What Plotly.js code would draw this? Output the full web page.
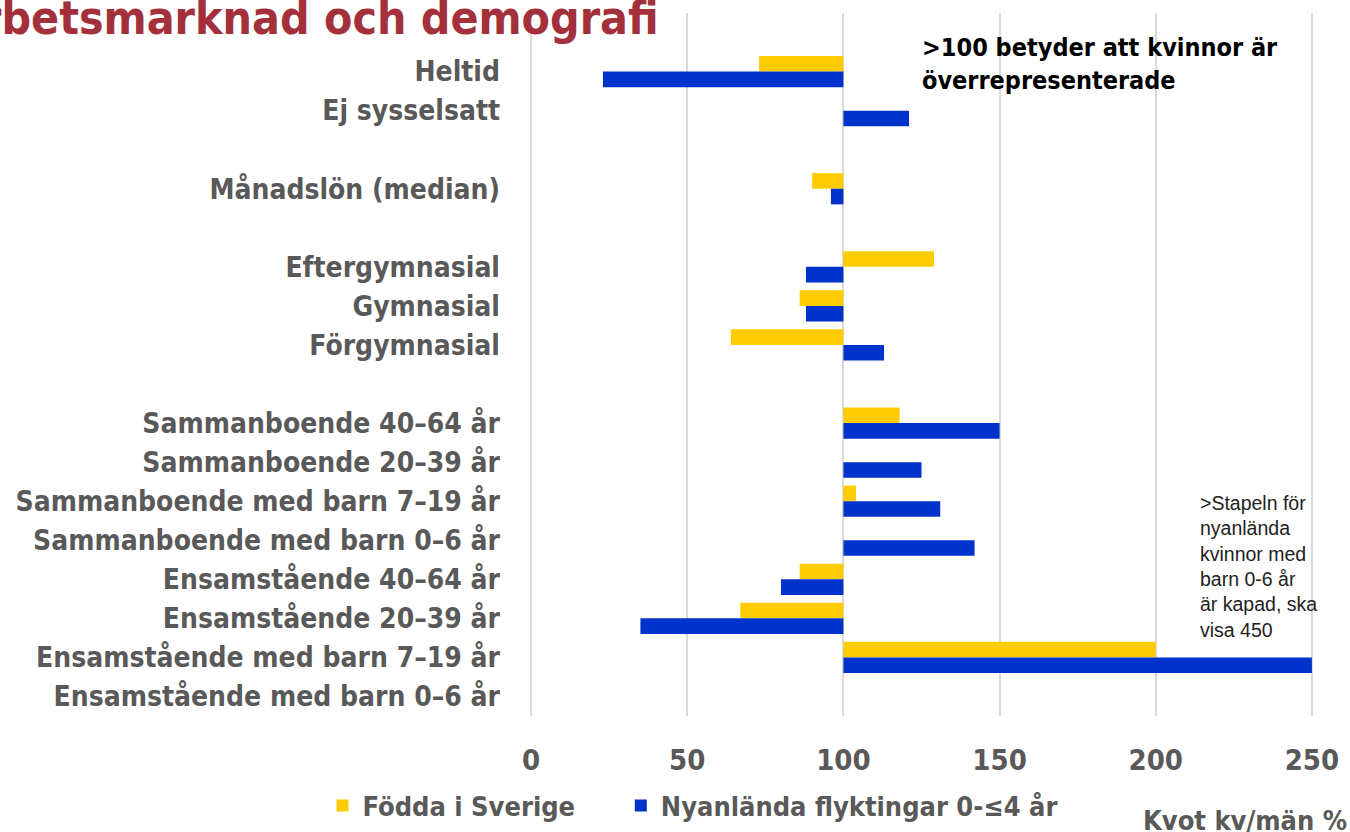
<!DOCTYPE html>
<html><head><meta charset="utf-8">
<script src="https://cdn.plot.ly/plotly-3.0.1.min.js"></script>
<style>html,body{margin:0;padding:0;background:#fff}#chart{width:1350px;height:832px}</style>
</head><body><div id="chart"></div>
<script>
const categories = [" ", "Heltid", "Ej sysselsatt", "  ", "Månadslön (median)", "   ",
  "Eftergymnasial", "Gymnasial", "Förgymnasial", "    ",
  "Sammanboende 40–64 år", "Sammanboende 20–39 år", "Sammanboende med barn 7–19 år",
  "Sammanboende med barn 0–6 år", "Ensamstående 40–64 år", "Ensamstående 20–39 år",
  "Ensamstående med barn 7–19 år", "Ensamstående med barn 0–6 år"];
const foddaISverige = [null, 73, null, null, 90, null, 129, 86, 64, null, 118, null, 104, null, 86, 67, 200, null];
const nyanlanda = [null, 23, 121, null, 96, null, 88, 88, 113, null, 150, 125, 131, 142, 80, 35, 250, null];
const xTicks = [0, 50, 100, 150, 200, 250];
const baseValue = 100;

const condFont = "'Liberation Sans Narrow', 'DejaVu Sans Condensed', 'Arial Narrow', sans-serif";
const gray = '#595959';

function mk(name, vals, color, legendId) {
  return {
    type: 'bar', orientation: 'h', name: name,
    y: categories,
    x: vals.map(v => v === null ? null : v - baseValue),
    base: baseValue,
    marker: {color: color, line: {width: 0}},
    legend: legendId,
    hoverinfo: 'skip'
  };
}

const data = [
  mk('Födda i Sverige', foddaISverige, '#FFCC00', 'legend'),
  mk('Nyanlända flyktingar 0-≤4 år', nyanlanda, '#0033CC', 'legend2')
];

const legendFont = {family: condFont, size: 27, color: gray, weight: 'bold'};

const layout = {
  width: 1350, height: 832,
  margin: {l: 530, r: 37, t: 13, b: 116, autoexpand: false},
  paper_bgcolor: '#fff', plot_bgcolor: '#fff',
  barmode: 'group', bargap: 0.2, bargroupgap: 0,
  showlegend: true,
  legend: {orientation: 'h', x: -0.265, xanchor: 'left', xref: 'paper', y: -0.128, yanchor: 'middle',
    font: legendFont, itemwidth: 30},
  legend2: {orientation: 'h', x: 0.116, xanchor: 'left', xref: 'paper', y: -0.128, yanchor: 'middle',
    font: legendFont, itemwidth: 30},
  xaxis: {
    range: [-0.35, 250.35], tickvals: xTicks, ticktext: xTicks.map(String),
    showgrid: true, gridcolor: '#D9D9D9', gridwidth: 2, zeroline: false,
    ticks: '', ticklabelstandoff: 24,
    tickfont: {family: condFont, size: 29, color: gray, weight: 'bold'},
    fixedrange: true
  },
  yaxis: {
    type: 'category', categoryorder: 'array', categoryarray: categories,
    autorange: 'reversed', showgrid: false, zeroline: false, ticks: '',
    ticklabelstandoff: 29,
    tickfont: {family: condFont, size: 28, color: gray, weight: 'bold'},
    fixedrange: true
  },
  annotations: [
    {text: 'Arbetsmarknad och demografi', xref: 'paper', yref: 'paper', x: 0.167, y: 0.993,
     xanchor: 'right', yanchor: 'middle', showarrow: false,
     font: {family: condFont, size: 46, color: '#A3303A', weight: 'bold'}},
    {text: '>100 betyder att kvinnor är<br>överrepresenterade', xref: 'x', yref: 'paper', x: 124.5, y: 0.974,
     xanchor: 'left', yanchor: 'top', align: 'left', showarrow: false,
     font: {family: condFont, size: 25, color: '#000', weight: 'bold'}},
    {text: '>Stapeln för<br>nyanlända<br>kvinnor med<br>barn 0-6 år<br>är kapad, ska<br>visa 450', xref: 'x', yref: 'paper', x: 213.5, y: 0.321,
     xanchor: 'left', yanchor: 'top', align: 'left', showarrow: false,
     font: {family: "'Liberation Sans', Arial, sans-serif", size: 19.5, color: '#222'}},
    {text: 'Kvot kv/män %', xref: 'paper', yref: 'paper', x: 1.046, y: -0.148,
     xanchor: 'right', yanchor: 'middle', showarrow: false,
     font: {family: condFont, size: 27, color: gray, weight: 'bold'}}
  ]
};

Plotly.newPlot('chart', data, layout, {displayModeBar: false, staticPlot: true});
</script></body></html>
